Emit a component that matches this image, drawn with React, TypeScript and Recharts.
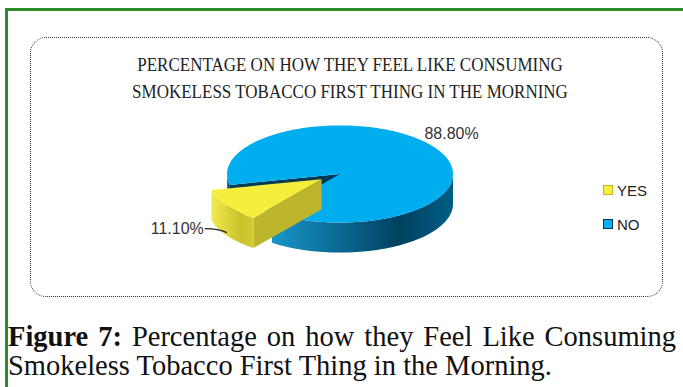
import React from "react";
import { PieChart, Pie, Legend } from "recharts";

const categories = ["NO", "YES"];
const percentages = [88.8, 11.1];
const legendOrder = ["YES", "NO"];

const data = categories.map((name, i) => ({ name, value: percentages[i] }));

const TILT = 0.43;
const DEPTH = 30;
const EXPLODE = 22;

const sliceStyles: Record<string, any> = {
  NO: { top: "#00AEEF", wallA: "#1896CA", wallB: "#00415F", wallC: "#005E84", edge: "#003B56" },
  YES: { top: "#F5EE3C", wallA: "#F2EB4E", wallB: "#C9C22C", wallC: "#D2CA34", edge: "#BDB52C" },
};

const rad = (a: number) => (a * Math.PI) / 180;

function frontIntervals(s: number, e: number) {
  const out: [number, number][] = [];
  for (let k = Math.floor(s / 360) - 1; k <= Math.floor(e / 360) + 1; k++) {
    const a = Math.max(s, 180 + 360 * k);
    const b = Math.min(e, 360 + 360 * k);
    if (b > a) out.push([a, b]);
  }
  return out;
}

function sample(a: number, b: number) {
  const n = Math.max(2, Math.ceil(Math.abs(b - a)));
  const arr: number[] = [];
  for (let i = 0; i <= n; i++) arr.push(a + ((b - a) * i) / n);
  return arr;
}

// draws one slice as a tilted 3D wedge, using the angles Recharts computed
function Slice3D(props: any) {
  const { cx, cy, outerRadius: rx, startAngle, endAngle, midAngle, payload, value } = props;
  const name = payload?.name ?? props.name;
  const st = sliceStyles[name];
  const off = name === "YES" ? EXPLODE : 0;
  const ox = cx + off * Math.cos(rad(midAngle));
  const oy = cy - off * TILT * Math.sin(rad(midAngle));
  const P = (a: number, dy = 0) => [ox + rx * Math.cos(rad(a)), oy - rx * TILT * Math.sin(rad(a)) + dy];

  const top =
    `M${ox},${oy} ` + sample(startAngle, endAngle).map((a) => `L${P(a).join(",")}`).join(" ") + " Z";

  const walls = frontIntervals(startAngle, endAngle).map(([a, b]) => {
    const pts = sample(a, b);
    const upper = pts.map((t) => P(t).join(","));
    const lower = pts.slice().reverse().map((t) => P(t, DEPTH).join(","));
    return "M" + upper.concat(lower).join(" L") + " Z";
  });

  const radial: string[] = [];
  [startAngle, endAngle].forEach((a, i) => {
    const c = Math.cos(rad(a));
    const visible = i === 0 ? c > 0 : c < 0;
    if (!visible) return;
    const p = P(a);
    const q = P(a, DEPTH);
    radial.push(`M${ox},${oy} L${p.join(",")} L${q.join(",")} L${ox},${oy + DEPTH} Z`);
  });

  const gid = `wall-${name}`;
  const label = `${value.toFixed(2)}%`;
  const cm = Math.cos(rad(midAngle));
  let text: React.ReactNode;
  if (cm >= 0) {
    const tx = ox + (rx + 20) * cm;
    const ty = oy - (rx * TILT + 25) * Math.sin(rad(midAngle));
    text = (
      <text x={tx} y={ty} textAnchor="middle" dominantBaseline="central" fontSize={16} fill="#333"
        fontFamily="Liberation Sans, Arial, sans-serif">
        {label}
      </text>
    );
  } else {
    const [axp, ayp] = P(midAngle, DEPTH * 0.9);
    const ex = axp - 22;
    const ey = ayp - 4;
    text = (
      <g>
        <path d={`M${axp},${ayp} Q${axp - 8},${ey} ${ex},${ey}`} stroke="#222" strokeWidth={1.3} fill="none" />
        <text x={ex - 1} y={ey} textAnchor="end" dominantBaseline="central" fontSize={16} fill="#333"
          fontFamily="Liberation Sans, Arial, sans-serif">
          {label}
        </text>
      </g>
    );
  }

  return (
    <g>
      <defs>
        <linearGradient id={gid} x1="0" y1="0" x2="1" y2="0">
          <stop offset="0%" stopColor={st.wallA} />
          <stop offset="70%" stopColor={st.wallB} />
          <stop offset="100%" stopColor={st.wallC} />
        </linearGradient>
      </defs>
      {radial.map((d, i) => (
        <path key={`r${i}`} d={d} fill={st.edge} />
      ))}
      {walls.map((d, i) => (
        <path key={`w${i}`} d={d} fill={`url(#${gid})`} />
      ))}
      <path d={top} fill={st.top} />
      {text}
    </g>
  );
}

function LegendBox() {
  return (
    <div style={{ fontFamily: "Liberation Sans, Arial, sans-serif", fontSize: 15, color: "#222" }}>
      {legendOrder.map((n) => (
        <div key={n} style={{ display: "flex", alignItems: "center", height: 34 }}>
          <div
            style={{
              width: 8,
              height: 8,
              background: sliceStyles[n].top,
              border: `1px solid ${sliceStyles[n].edge}`,
              marginRight: 4,
            }}
          />
          <span>{n}</span>
        </div>
      ))}
    </div>
  );
}

export default function App() {
  return (
    <div style={{ position: "absolute", left: 0, top: 0, width: 683, height: 387, background: "#fff", overflow: "hidden" }}>
      <div style={{ position: "absolute", left: 5, top: 8, width: 700, height: 400, borderTop: "3px solid #2C8C2C", borderLeft: "3px solid #2C8C2C" }} />
      <div
        style={{
          position: "absolute",
          left: 30,
          top: 37,
          width: 631,
          height: 258,
          border: "1.5px dotted #333",
          borderRadius: 16,
        }}
      />
      <div
        style={{
          position: "absolute",
          left: 30,
          top: 51,
          width: 640,
          textAlign: "center",
          fontFamily: "Liberation Serif, serif",
          fontSize: 17,
          lineHeight: "24px",
          color: "#222",
          transform: "scaleY(1.15)",
          transformOrigin: "center top",
        }}
      >
        <div>PERCENTAGE ON HOW THEY FEEL LIKE CONSUMING</div>
        <div>SMOKELESS TOBACCO FIRST THING IN THE MORNING</div>
      </div>
      <div style={{ position: "absolute", left: 30, top: 37 }}>
        <PieChart width={633} height={260} margin={{ top: 0, right: 0, bottom: 0, left: 0 }}>
          <Pie
            data={data}
            dataKey="value"
            nameKey="name"
            cx={310}
            cy={137}
            outerRadius={113}
            startAngle={233}
            endAngle={593}
            fill="transparent"
            stroke="none"
            label={Slice3D}
            labelLine={false}
            isAnimationActive={false}
          />
          <Legend
            content={() => <LegendBox />}
            wrapperStyle={{ position: "absolute", left: 573, top: 136, width: 60 }}
          />
        </PieChart>
      </div>
      <div
        style={{
          position: "absolute",
          left: 8,
          top: 322,
          width: 668,
          fontFamily: "Liberation Serif, serif",
          fontSize: 28.5,
          lineHeight: "29px",
          color: "#111",
        }}
      >
        <div style={{ textAlign: "justify", textAlignLast: "justify" }}>
          <b>Figure 7:</b> Percentage on how they Feel Like Consuming
        </div>
        <div>Smokeless Tobacco First Thing in the Morning.</div>
      </div>
    </div>
  );
}
